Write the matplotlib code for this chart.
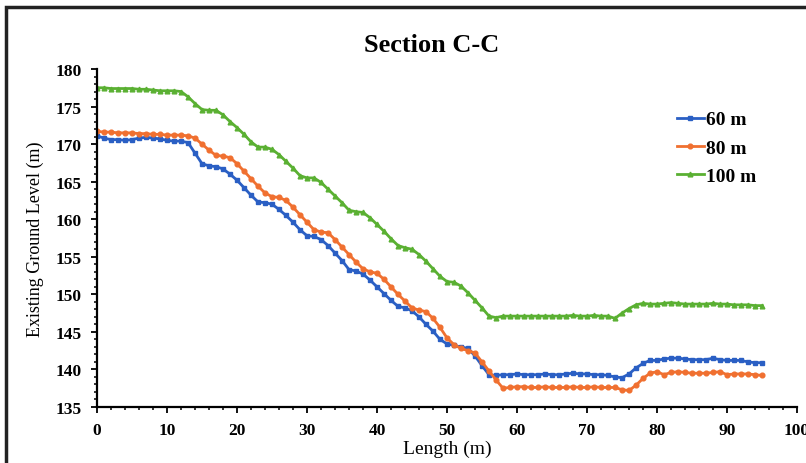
import matplotlib
matplotlib.use("Agg")
import matplotlib.pyplot as plt
from matplotlib.ticker import MultipleLocator
from matplotlib.patches import Rectangle

length = list(range(0, 96))

level_60 = [171.1, 170.8, 170.6, 170.6, 170.5, 170.6, 170.8, 170.9, 170.8, 170.7,
            170.5, 170.4, 170.4, 170.2, 168.8, 167.4, 167.1, 167.0, 166.7, 166.0,
            165.2, 164.2, 163.2, 162.3, 162.2, 162.0, 161.3, 160.5, 159.6, 158.6,
            157.8, 157.7, 157.3, 156.5, 155.5, 154.5, 153.3, 153.1, 152.7, 151.9,
            151.0, 150.1, 149.2, 148.4, 148.2, 147.8, 147.0, 146.0, 145.1, 144.0,
            143.4, 143.2, 143.0, 142.8, 141.8, 140.5, 139.3, 139.2, 139.3, 139.3,
            139.4, 139.3, 139.3, 139.3, 139.4, 139.3, 139.3, 139.4, 139.5, 139.4,
            139.4, 139.3, 139.3, 139.2, 139.0, 138.9, 139.4, 140.2, 140.8, 141.2,
            141.2, 141.4, 141.5, 141.5, 141.4, 141.3, 141.3, 141.3, 141.5, 141.3,
            141.2, 141.2, 141.2, 141.0, 140.9, 140.9]

level_80 = [171.7, 171.6, 171.6, 171.5, 171.5, 171.5, 171.4, 171.4, 171.3, 171.3,
            171.2, 171.2, 171.2, 171.1, 170.8, 170.0, 169.2, 168.5, 168.4, 168.2,
            167.4, 166.4, 165.4, 164.4, 163.5, 163.0, 162.9, 162.5, 161.6, 160.6,
            159.6, 158.6, 158.3, 158.2, 157.3, 156.3, 155.3, 154.3, 153.4, 153.0,
            152.8, 152.0, 151.0, 150.0, 149.1, 148.2, 147.9, 147.7, 146.8, 145.6,
            144.2, 143.3, 142.8, 142.5, 142.2, 141.0, 139.8, 138.6, 137.5, 137.6,
            137.7, 137.7, 137.6, 137.6, 137.7, 137.6, 137.6, 137.6, 137.7, 137.6,
            137.6, 137.7, 137.6, 137.6, 137.6, 137.3, 137.2, 137.9, 138.8, 139.5,
            139.7, 139.3, 139.6, 139.7, 139.6, 139.5, 139.5, 139.5, 139.6, 139.7,
            139.3, 139.4, 139.4, 139.4, 139.3, 139.2]

level_100 = [177.5, 177.5, 177.4, 177.4, 177.4, 177.4, 177.3, 177.3, 177.2, 177.1,
             177.1, 177.1, 177.0, 176.3, 175.4, 174.6, 174.5, 174.5, 173.9, 173.0,
             172.2, 171.3, 170.3, 169.6, 169.6, 169.3, 168.6, 167.7, 166.8, 165.8,
             165.5, 165.5, 164.9, 164.0, 163.1, 162.2, 161.2, 161.0, 160.9, 160.2,
             159.3, 158.4, 157.4, 156.5, 156.2, 156.0, 155.3, 154.4, 153.4, 152.4,
             151.7, 151.6, 151.1, 150.2, 149.2, 148.2, 147.1, 146.9, 147.1, 147.1,
             147.1, 147.1, 147.1, 147.1, 147.1, 147.1, 147.1, 147.1, 147.2, 147.1,
             147.1, 147.2, 147.1, 147.1, 146.8, 147.5, 148.1, 148.6, 148.8, 148.7,
             148.7, 148.8, 148.9, 148.8, 148.7, 148.7, 148.7, 148.7, 148.8, 148.7,
             148.7, 148.6, 148.6, 148.6, 148.5, 148.5]

series_names = ["60 m", "80 m", "100 m"]
x_ticks = [0, 10, 20, 30, 40, 50, 60, 70, 80, 90, 100]
y_ticks = [135, 140, 145, 150, 155, 160, 165, 170, 175, 180]

plt.rcParams['font.family'] = ['Liberation Serif', 'DejaVu Serif']

fig = plt.figure(figsize=(8.06, 4.64), dpi=100)
fig.patch.set_facecolor('white')
ax = fig.add_axes([97/806, 1 - 408/464, 700/806, 338/464])

styles = [
    dict(color='#2a5fc4', marker='s', markersize=3.4),
    dict(color='#f07030', marker='o', markersize=3.4),
    dict(color='#5ab032', marker='^', markersize=3.4),
]
for vals, name, st in zip([level_60, level_80, level_100], series_names, styles):
    ax.plot(length, vals, linewidth=2.0, label=name, **st)

ax.set_xlim(0, 100)
ax.set_ylim(135, 180)
ax.set_xticks(x_ticks)
ax.set_yticks(y_ticks)
ax.xaxis.set_minor_locator(MultipleLocator(2))
ax.yaxis.set_minor_locator(MultipleLocator(1))
ax.spines['top'].set_visible(False)
ax.spines['right'].set_visible(False)
for s in ['left', 'bottom']:
    ax.spines[s].set_linewidth(1.6)
    ax.spines[s].set_color('black')
ax.tick_params(which='major', direction='out', length=4, width=1.3, labelsize=12.5)
ax.tick_params(axis='x', which='major', pad=7)
ax.tick_params(axis='y', which='major', pad=7)
ax.tick_params(which='minor', direction='out', length=2.5, width=1.1)
for lab in ax.get_xticklabels() + ax.get_yticklabels():
    lab.set_fontweight('bold')

ax.set_xlabel('Length (m)', fontsize=14, labelpad=1)
ax.set_ylabel('Existing Ground Level (m)', fontsize=13, labelpad=8)

fig.text(432/806, 1 - 45/464, 'Section C-C', ha='center', va='center',
         fontsize=19, fontweight='bold')

leg = ax.legend(loc='upper left', bbox_to_anchor=(0.814, 0.905), frameon=False,
                prop={'weight': 'bold', 'size': 14}, handlelength=1.4,
                handletextpad=0.1, labelspacing=0.55, borderpad=0)

fig.patches.append(Rectangle((6/806, -0.1), 1.2, 1 - 8/464 + 0.1,
                             transform=fig.transFigure, fill=False,
                             edgecolor='#222222', linewidth=2.5))

fig.savefig('out.png', dpi=100, facecolor='white')
